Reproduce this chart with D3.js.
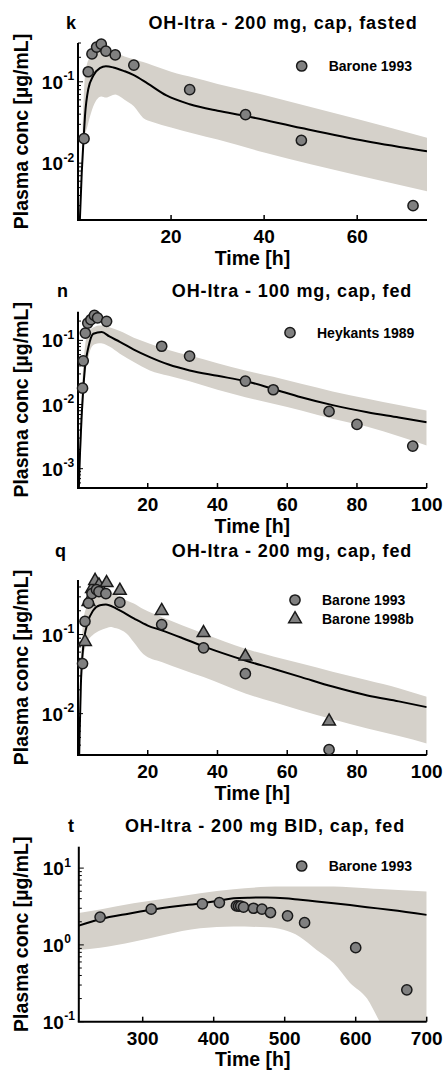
<!DOCTYPE html>
<html><head><meta charset="utf-8">
<script src="https://cdn.jsdelivr.net/npm/d3@7"></script>
<style>html,body{margin:0;padding:0;background:#fff;}svg{display:block;}</style>
</head><body>
<svg id="chart" width="443" height="1071"></svg>
<script>
// ---------- Panel k : OH-Itra - 200 mg, cap, fasted ----------
const kObsTime = [1.3, 2.2, 3, 4, 5, 6, 8, 12, 24, 36, 48, 72];
const kObsConc = [0.020, 0.133, 0.22, 0.267, 0.29, 0.238, 0.214, 0.16, 0.080, 0.0395, 0.0191, 0.0030];
const kLineTime = [0, 0.4, 0.8, 1.2, 1.5, 2.2, 3.3, 4.7, 6, 7.6, 10, 12, 15, 19, 24, 30, 36, 48, 62, 75];
const kLineConc = [0.0004, 0.002, 0.0075, 0.02, 0.038, 0.081, 0.119, 0.147, 0.155, 0.15, 0.135, 0.121, 0.095, 0.068, 0.053, 0.044, 0.038, 0.027, 0.0186, 0.014];
const kBandTime = [1.0, 1.4, 2, 3, 4, 5, 6, 7, 8, 9, 10, 12, 14, 16, 20, 25, 30, 40, 50, 60, 75];
const kBandLow  = [0.012, 0.02, 0.028, 0.045, 0.06, 0.066, 0.064, 0.067, 0.07, 0.066, 0.06, 0.05, 0.036, 0.032, 0.0275, 0.023, 0.0195, 0.0135, 0.0097, 0.0071, 0.0045];
const kBandHigh = [0.03, 0.10, 0.17, 0.21, 0.235, 0.25, 0.245, 0.235, 0.225, 0.215, 0.205, 0.19, 0.175, 0.16, 0.133, 0.112, 0.094, 0.069, 0.049, 0.035, 0.0205];
const kXTicks = [20, 40, 60];

// ---------- Panel n : OH-Itra - 100 mg, cap, fed ----------
const nObsTime = [1.3, 1.5, 2.1, 2.8, 3.7, 4.7, 5.6, 8.2, 24, 32, 48, 56, 72, 80, 96];
const nObsConc = [0.018, 0.048, 0.13, 0.186, 0.21, 0.245, 0.225, 0.198, 0.081, 0.057, 0.0232, 0.017, 0.0078, 0.0049, 0.00225];
const nLineTime = [0, 0.3, 0.6, 1.0, 1.3, 2, 3, 4.4, 6.8, 9, 12, 16, 20.6, 26, 32, 40, 48, 56, 64, 73, 83, 92, 100];
const nLineConc = [0.0002, 0.0006, 0.0019, 0.006, 0.0116, 0.038, 0.079, 0.127, 0.135, 0.115, 0.095, 0.072, 0.055, 0.042, 0.034, 0.028, 0.0232, 0.0175, 0.013, 0.0098, 0.0076, 0.0063, 0.0053];
const nBandTime = [0.8, 1.3, 2, 3, 4, 5, 6, 7.3, 9, 12, 16, 20.6, 26, 32, 40, 48, 56, 64, 73, 83, 92, 100];
const nBandLow  = [0.0015, 0.006, 0.025, 0.055, 0.08, 0.088, 0.09, 0.089, 0.08, 0.062, 0.046, 0.034, 0.028, 0.023, 0.017, 0.013, 0.0103, 0.0081, 0.006, 0.0045, 0.0032, 0.0023];
const nBandHigh = [0.004, 0.025, 0.08, 0.14, 0.155, 0.165, 0.17, 0.17, 0.16, 0.14, 0.11, 0.089, 0.071, 0.058, 0.044, 0.034, 0.027, 0.021, 0.016, 0.0123, 0.0098, 0.0081];
const nXTicks = [20, 40, 60, 80, 100];

// ---------- Panel q : OH-Itra - 200 mg, cap, fed ----------
const qObsTime = [1.3, 2, 3, 4, 5.3, 6, 8, 12, 24, 36, 48, 72];
const qObsConc = [0.043, 0.147, 0.25, 0.33, 0.37, 0.35, 0.33, 0.255, 0.134, 0.068, 0.032, 0.0035];
const qObs2Time = [2, 3, 4, 4.9, 6, 8.2, 12, 24, 36, 48, 72];
const qObs2Conc = [0.081, 0.26, 0.38, 0.48, 0.42, 0.45, 0.36, 0.20, 0.105, 0.053, 0.008];
const qLineTime = [0, 0.4, 0.8, 1.5, 2.7, 4.4, 6.3, 8, 11, 16, 20, 24, 30, 36, 48, 56, 64, 73, 83, 92, 100];
const qLineConc = [0.0005, 0.004, 0.0217, 0.07, 0.138, 0.203, 0.235, 0.24, 0.213, 0.16, 0.13, 0.113, 0.09, 0.071, 0.047, 0.037, 0.029, 0.022, 0.017, 0.0143, 0.0121];
const qBandTime = [0.8, 1.5, 2.7, 4.4, 6.3, 8, 9.2, 11, 13.9, 16, 18.7, 24, 30, 36, 48, 56, 64, 73, 83, 92, 100];
const qBandLow  = [0.01, 0.05, 0.08, 0.1, 0.113, 0.12, 0.125, 0.12, 0.103, 0.08, 0.057, 0.045, 0.036, 0.029, 0.018, 0.014, 0.011, 0.0085, 0.0065, 0.0052, 0.0042];
const qBandHigh = [0.03, 0.15, 0.235, 0.3, 0.34, 0.35, 0.345, 0.32, 0.27, 0.247, 0.21, 0.167, 0.13, 0.103, 0.066, 0.053, 0.043, 0.034, 0.0264, 0.021, 0.0163];
const qXTicks = [20, 40, 60, 80, 100];

// ---------- Panel t : OH-Itra - 200 mg BID, cap, fed ----------
const tObsTime = [240, 312, 384, 408, 432, 435, 438, 442, 456, 468, 480, 504, 528, 600, 672];
const tObsConc = [2.3, 2.92, 3.42, 3.56, 3.22, 3.2, 3.2, 3.1, 3.0, 2.92, 2.64, 2.39, 1.95, 0.92, 0.26];
const tLineTime = [210, 240, 280, 312, 350, 383, 410, 428, 450, 475, 500, 522, 545, 569, 592, 616, 650, 700];
const tLineConc = [1.78, 2.16, 2.55, 2.86, 3.2, 3.49, 3.8, 4.06, 4.12, 4.14, 4.05, 3.86, 3.68, 3.49, 3.3, 3.1, 2.85, 2.46];
const tBandTime = [210, 240, 287, 330, 381, 428, 475, 498, 521, 545, 569, 592, 616, 634, 660, 700];
const tBandLow  = [0.86, 0.92, 1.1, 1.35, 1.65, 1.73, 1.7, 1.57, 1.28, 0.86, 0.58, 0.32, 0.2, 0.1, 0.045, 0.015];
const tBandHigh = [2.6, 2.9, 3.49, 4.0, 4.72, 5.3, 5.7, 5.75, 5.75, 5.75, 5.75, 5.65, 5.48, 5.35, 5.2, 4.95];
const tXTicks = [300, 400, 500, 600, 700];

const FONT = "'Liberation Sans', Arial, Helvetica, sans-serif";
const BAND = "#d5d1ca";
const MARK_FILL = "#808080";
const MARK_STROKE = "#1a1a1a";

const svg = d3.select("#chart");

function zip(t, v) { return t.map((d, i) => [d, v[i]]); }

function drawPanel(p) {
  const g = svg.append("g");
  const x = d3.scaleLinear().domain(p.xDomain).range([p.left, p.right]);
  const y = d3.scaleLog().domain(p.yDomain).range([p.bottom, p.top]);
  const clipId = "clip-" + p.letter;
  g.append("clipPath").attr("id", clipId).append("rect")
    .attr("x", p.left).attr("y", p.top).attr("width", p.right - p.left).attr("height", p.bottom - p.top);
  const plot = g.append("g").attr("clip-path", `url(#${clipId})`);

  // band
  const bandData = p.bandTime.map((t, i) => ({t, lo: p.bandLow[i], hi: p.bandHigh[i]}));
  plot.append("path").datum(bandData)
    .attr("fill", BAND)
    .attr("d", d3.area().curve(d3.curveMonotoneX)
      .x(d => x(d.t)).y0(d => y(d.lo)).y1(d => y(d.hi)));

  // median line
  plot.append("path").datum(zip(p.lineTime, p.lineConc))
    .attr("fill", "none").attr("stroke", "#000").attr("stroke-width", 2)
    .attr("d", d3.line().curve(d3.curveMonotoneX).x(d => x(d[0])).y(d => y(d[1])));

  // axes lines
  g.append("line").attr("x1", p.left).attr("x2", p.left).attr("y1", p.top).attr("y2", p.bottom)
    .attr("stroke", "#000").attr("stroke-width", 2);
  g.append("line").attr("x1", p.left - 1).attr("x2", p.right).attr("y1", p.bottom).attr("y2", p.bottom)
    .attr("stroke", "#000").attr("stroke-width", 2);

  // x ticks (inward)
  p.xTicks.forEach(v => {
    g.append("line").attr("x1", x(v)).attr("x2", x(v)).attr("y1", p.bottom).attr("y2", p.bottom - 5)
      .attr("stroke", "#000").attr("stroke-width", 1.5);
    g.append("text").attr("x", x(v)).attr("y", p.bottom + 23)
      .attr("text-anchor", "middle").attr("font-family", FONT).attr("font-weight", "bold")
      .attr("font-size", 19).text(v);
  });

  // y ticks (log, inward)
  const [y0, y1] = p.yDomain;
  const dMin = Math.floor(Math.log10(y0)), dMax = Math.ceil(Math.log10(y1));
  for (let d = dMin; d <= dMax; d++) {
    for (let k = 1; k <= 9; k++) {
      const v = k * Math.pow(10, d);
      if (v < y0 * 0.999 || v > y1 * 1.001) continue;
      const len = k === 1 ? 5 : 3;
      g.append("line").attr("x1", p.left).attr("x2", p.left + len).attr("y1", y(v)).attr("y2", y(v))
        .attr("stroke", "#000").attr("stroke-width", 1);
      if (k === 1) {
        g.append("text").attr("x", p.left - 15).attr("y", y(v) + 7)
          .attr("text-anchor", "end").attr("font-family", FONT).attr("font-weight", "bold")
          .attr("font-size", 19).text("10");
        g.append("text").attr("x", p.left - 14.5).attr("y", y(v) - 1.5)
          .attr("text-anchor", "start").attr("font-family", FONT).attr("font-weight", "bold")
          .attr("font-size", 12).text(d < 0 ? "-" + (-d) : String(d));
      }
    }
  }

  // observed markers
  const circ = d3.symbol().type(d3.symbolCircle).size(82);
  const tri = d3.symbol().type(d3.symbolTriangle).size(70);
  if (p.obs2Time) {
    g.selectAll(null).data(zip(p.obs2Time, p.obs2Conc)).join("path")
      .attr("d", tri).attr("transform", d => `translate(${x(d[0])},${y(d[1])})`)
      .attr("fill", MARK_FILL).attr("stroke", MARK_STROKE).attr("stroke-width", 1.5);
  }
  g.selectAll(null).data(zip(p.obsTime, p.obsConc)).join("path")
    .attr("d", circ).attr("transform", d => `translate(${x(d[0])},${y(d[1])})`)
    .attr("fill", MARK_FILL).attr("stroke", MARK_STROKE).attr("stroke-width", 1.5);

  // legend
  p.legend.forEach((L, i) => {
    const ly = p.legendY + i * 19;
    g.append("path").attr("d", L.tri ? tri : circ)
      .attr("transform", `translate(${p.legendX},${ly})`)
      .attr("fill", MARK_FILL).attr("stroke", MARK_STROKE).attr("stroke-width", 1.5);
    g.append("text").attr("x", p.legendX + 27).attr("y", ly + 5)
      .attr("font-family", FONT).attr("font-weight", "bold").attr("font-size", 14).text(L.name);
  });

  // titles
  g.append("text").attr("x", p.letterX).attr("y", p.titleY)
    .attr("font-family", FONT).attr("font-weight", "bold").attr("font-size", 18).text(p.letter);
  g.append("text").attr("x", p.titleX).attr("y", p.titleY).attr("text-anchor", "middle")
    .attr("font-family", FONT).attr("font-weight", "bold").attr("font-size", 18)
    .attr("letter-spacing", 0.9).text(p.title);

  // axis labels
  g.append("text").attr("x", (p.left + p.right) / 2).attr("y", p.bottom + 44.5)
    .attr("text-anchor", "middle").attr("font-family", FONT).attr("font-weight", "bold")
    .attr("font-size", 19.5).text("Time [h]");
  g.append("text").attr("transform", `translate(28,${(p.top + p.bottom) / 2}) rotate(-90)`)
    .attr("text-anchor", "middle").attr("font-family", FONT).attr("font-weight", "bold")
    .attr("font-size", 19.5).text("Plasma conc [µg/mL]");
}

drawPanel({
  letter: "k", title: "OH-Itra - 200 mg, cap, fasted", letterX: 66, titleX: 283, titleY: 29,
  left: 78, right: 427, top: 43, bottom: 220, xDomain: [0, 75], yDomain: [0.002, 0.3],
  xTicks: kXTicks, obsTime: kObsTime, obsConc: kObsConc,
  lineTime: kLineTime, lineConc: kLineConc, bandTime: kBandTime, bandLow: kBandLow, bandHigh: kBandHigh,
  legendX: 301.7, legendY: 66, legend: [{name: "Barone 1993"}]
});
drawPanel({
  letter: "n", title: "OH-Itra - 100 mg, cap, fed", letterX: 57, titleX: 292, titleY: 297,
  left: 78, right: 426.7, top: 311.7, bottom: 488, xDomain: [0, 100], yDomain: [0.0005, 0.28],
  xTicks: nXTicks, obsTime: nObsTime, obsConc: nObsConc,
  lineTime: nLineTime, lineConc: nLineConc, bandTime: nBandTime, bandLow: nBandLow, bandHigh: nBandHigh,
  legendX: 290, legendY: 332.7, legend: [{name: "Heykants 1989"}]
});
drawPanel({
  letter: "q", title: "OH-Itra - 200 mg, cap, fed", letterX: 55, titleX: 292, titleY: 557,
  left: 78, right: 426.7, top: 580, bottom: 755, xDomain: [0, 100], yDomain: [0.003, 0.49],
  xTicks: qXTicks, obsTime: qObsTime, obsConc: qObsConc, obs2Time: qObs2Time, obs2Conc: qObs2Conc,
  lineTime: qLineTime, lineConc: qLineConc, bandTime: qBandTime, bandLow: qBandLow, bandHigh: qBandHigh,
  legendX: 295, legendY: 600, legend: [{name: "Barone 1993"}, {name: "Barone 1998b", tri: true}]
});
drawPanel({
  letter: "t", title: "OH-Itra - 200 mg BID, cap, fed", letterX: 68, titleX: 265, titleY: 832,
  left: 78.8, right: 426.7, top: 846.7, bottom: 1021.7, xDomain: [210, 700], yDomain: [0.1, 19],
  xTicks: tXTicks, obsTime: tObsTime, obsConc: tObsConc,
  lineTime: tLineTime, lineConc: tLineConc, bandTime: tBandTime, bandLow: tBandLow, bandHigh: tBandHigh,
  legendX: 301.7, legendY: 866, legend: [{name: "Barone 1993"}]
});
</script>
</body></html>
